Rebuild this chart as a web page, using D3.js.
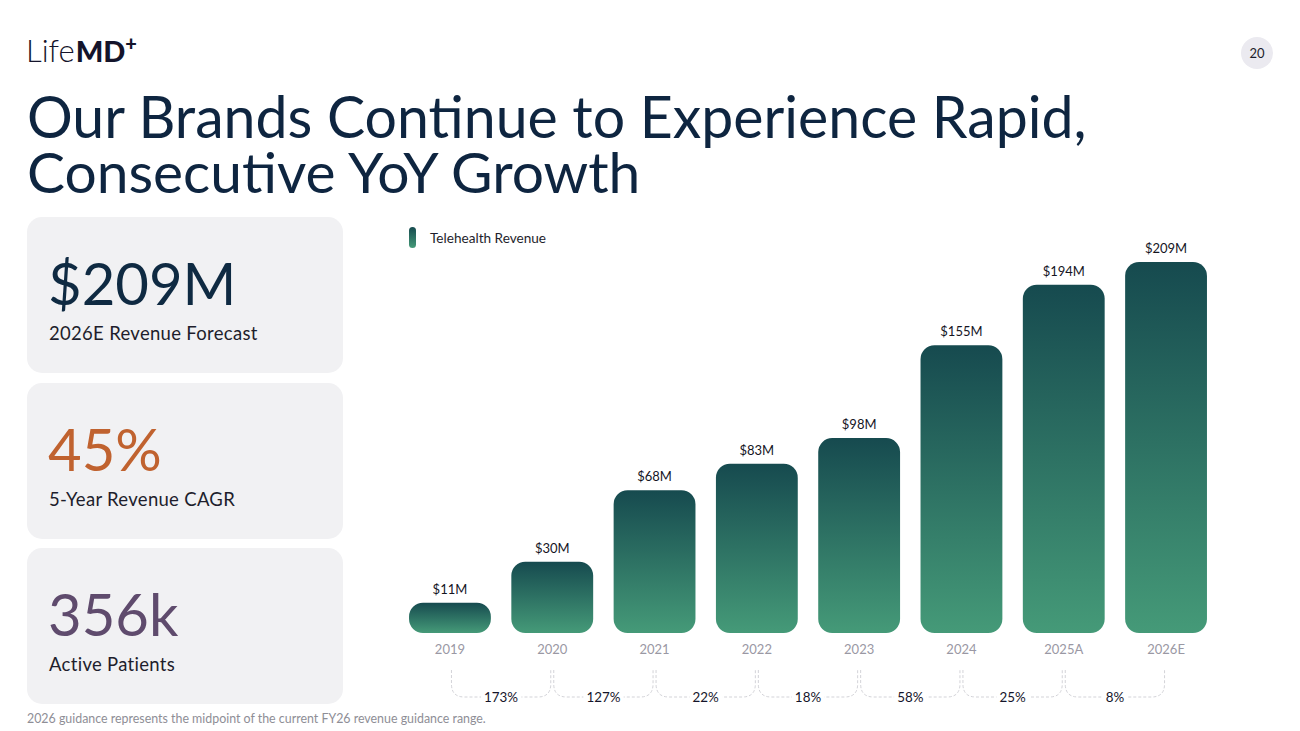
<!DOCTYPE html>
<html>
<head>
<meta charset="utf-8">
<script src="https://cdn.jsdelivr.net/npm/d3@7"></script>
<style>
  html, body { margin: 0; padding: 0; background: #ffffff; }
  svg { display: block; font-family: Lato, "Open Sans", sans-serif; }
</style>
</head>
<body>
<div id="chart"></div>
<script>
// chart data
var years = ["2019", "2020", "2021", "2022", "2023", "2024", "2025A", "2026E"];
var revenue = [11, 30, 68, 83, 98, 155, 194, 209];
var revenueLabels = ["$11M", "$30M", "$68M", "$83M", "$98M", "$155M", "$194M", "$209M"];
var growthLabels = ["173%", "127%", "22%", "18%", "58%", "25%", "8%"];

// stat cards on the left
var statValues = ["$209M", "45%", "356k"];
var statCaptions = ["2026E Revenue Forecast", "5-Year Revenue CAGR", "Active Patients"];
var statColors = ["#0f2a42", "#c0622f", "#5f4b6d"];

var W = 1300, H = 731;
var navy = "#0e2540";

var svg = d3.select("#chart").append("svg")
    .attr("width", W)
    .attr("height", H);

var defs = svg.append("defs");
var grad = defs.append("linearGradient")
    .attr("id", "barGrad")
    .attr("x1", 0).attr("y1", 0).attr("x2", 0).attr("y2", 1);
grad.append("stop").attr("offset", "0%").attr("stop-color", "#164a4f");
grad.append("stop").attr("offset", "100%").attr("stop-color", "#459a78");

// logo
var logo = svg.append("text")
    .attr("x", 26)
    .attr("y", 62)
    .style("fill", "#14142b");
logo.append("tspan").text("Life")
    .style("font-size", "31px").style("font-weight", 300);
logo.append("tspan").text("MD")
    .attr("dx", 1)
    .style("font-size", "29px").style("font-weight", 900);
logo.append("tspan").text("+")
    .attr("dy", -11)
    .style("font-size", "20px").style("font-weight", 900);

// page number
svg.append("circle")
    .attr("cx", 1257).attr("cy", 53).attr("r", 16)
    .style("fill", "#ebeaf0");
svg.append("text")
    .attr("x", 1257).attr("y", 57.5)
    .attr("text-anchor", "middle")
    .style("font-size", "13px")
    .style("fill", "#1d1d2b")
    .text("20");

// title, two lines in one text block
var titleLines = ["Our Brands Continue to Experience Rapid,", "Consecutive YoY Growth"];
var titleWidths = [1060, 614];
var title = svg.append("text")
    .attr("y", 138)
    .style("fill", navy);
titleLines.forEach(function(t, i) {
    var ts = title.append("tspan")
        .attr("x", 27)
        .attr("y", 138 + i * 55)
        .style("font-size", "50px")
        .text(t);
    var w = ts.node().getComputedTextLength();
    ts.style("font-size", (50 * titleWidths[i] / w).toFixed(1) + "px");
});

// cards
var cardTop = [217, 383, 548];
var cards = svg.append("g").selectAll("g")
    .data(statValues)
    .enter().append("g")
    .attr("transform", function(d, i) { return "translate(27," + cardTop[i] + ")"; });

cards.append("rect")
    .attr("width", 316).attr("height", 156)
    .attr("rx", 15).attr("ry", 15)
    .style("fill", "#f1f1f3");

cards.append("text")
    .attr("x", 21).attr("y", 88)
    .style("font-size", "58px")
    .style("fill", function(d, i) { return statColors[i]; })
    .text(function(d) { return d; });

cards.append("text")
    .attr("x", 22).attr("y", 123)
    .style("font-size", "18.5px")
    .style("letter-spacing", "0.3px")
    .style("fill", "#1e1e2c")
    .text(function(d, i) { return statCaptions[i]; });

// bar chart
var baseY = 633;
var x = d3.scaleBand()
    .domain(years)
    .range([398.8, 1217.2])
    .paddingInner(0.2)
    .paddingOuter(0.1);

// the slide's bars are not drawn to a strict linear scale; a soft power scale follows them
var y = d3.scalePow().exponent(0.85)
    .domain([0, d3.max(revenue)])
    .range([baseY, 262]);

var barG = svg.append("g");
barG.selectAll("path.bar")
    .data(revenue)
    .enter().append("path")
    .attr("class", "bar")
    .attr("d", function(d, i) {
        var x0 = x(years[i]), w = x.bandwidth();
        var top = y(d), h = baseY - top;
        var r = Math.min(14, h / 2);
        var p = d3.path();
        p.moveTo(x0 + r, top);
        p.lineTo(x0 + w - r, top);
        p.arcTo(x0 + w, top, x0 + w, top + r, r);
        p.lineTo(x0 + w, baseY - r);
        p.arcTo(x0 + w, baseY, x0 + w - r, baseY, r);
        p.lineTo(x0 + r, baseY);
        p.arcTo(x0, baseY, x0, baseY - r, r);
        p.lineTo(x0, top + r);
        p.arcTo(x0, top, x0 + r, top, r);
        p.closePath();
        return p.toString();
    })
    .style("fill", "url(#barGrad)");

// value labels
barG.selectAll("text.val")
    .data(revenue)
    .enter().append("text")
    .attr("class", "val")
    .attr("x", function(d, i) { return x(years[i]) + x.bandwidth() / 2; })
    .attr("y", function(d) { return y(d) - 9; })
    .attr("text-anchor", "middle")
    .style("font-size", "13px")
    .style("fill", "#15151f")
    .text(function(d, i) { return revenueLabels[i]; });

// category labels under the bars
var xAxis = d3.axisBottom(x).tickSize(0).tickPadding(12);
var axisG = svg.append("g")
    .attr("transform", "translate(0," + baseY + ")")
    .call(xAxis);
axisG.select(".domain").remove();
axisG.selectAll("text")
    .style("font-family", "Lato, sans-serif")
    .style("font-size", "13px")
    .style("fill", "#9a98a4");

// legend
svg.append("rect")
    .attr("x", 409).attr("y", 227)
    .attr("width", 7).attr("height", 21)
    .attr("rx", 3.5)
    .style("fill", "url(#barGrad)");
svg.append("text")
    .attr("x", 430).attr("y", 242.5)
    .style("font-size", "13.6px")
    .style("fill", "#1e1e2c")
    .text("Telehealth Revenue");

// growth brackets between neighbouring years
var bTop = 670, bLine = 697, bR = 13;
var brG = svg.append("g");
growthLabels.forEach(function(lbl, i) {
    var xa = x(years[i]) + x.bandwidth() / 2 + 1.5;
    var xb = x(years[i + 1]) + x.bandwidth() / 2 - 1.5;
    var p = d3.path();
    p.moveTo(xa, bTop);
    p.lineTo(xa, bLine - bR);
    p.quadraticCurveTo(xa, bLine, xa + bR, bLine);
    p.lineTo(xb - bR, bLine);
    p.quadraticCurveTo(xb, bLine, xb, bLine - bR);
    p.lineTo(xb, bTop);
    brG.append("path")
        .attr("d", p.toString())
        .style("fill", "none")
        .style("stroke", "#d3d3d8")
        .style("stroke-width", 1)
        .style("stroke-dasharray", "3,2");

    var cx = (xa + xb) / 2;
    var t = brG.append("text")
        .attr("x", cx).attr("y", bLine + 4.5)
        .attr("text-anchor", "middle")
        .style("font-size", "13.4px")
        .style("fill", "#15152a")
        .text(lbl);
    var bb = t.node().getBBox();
    brG.insert("rect", function() { return t.node(); })
        .attr("x", bb.x - 3).attr("y", bLine - 3)
        .attr("width", bb.width + 6).attr("height", 6)
        .style("fill", "#ffffff");
});

// footnote
svg.append("text")
    .attr("x", 27).attr("y", 723)
    .style("font-size", "12.4px")
    .style("fill", "#8e8e96")
    .text("2026 guidance represents the midpoint of the current FY26 revenue guidance range.");
</script>
</body>
</html>
